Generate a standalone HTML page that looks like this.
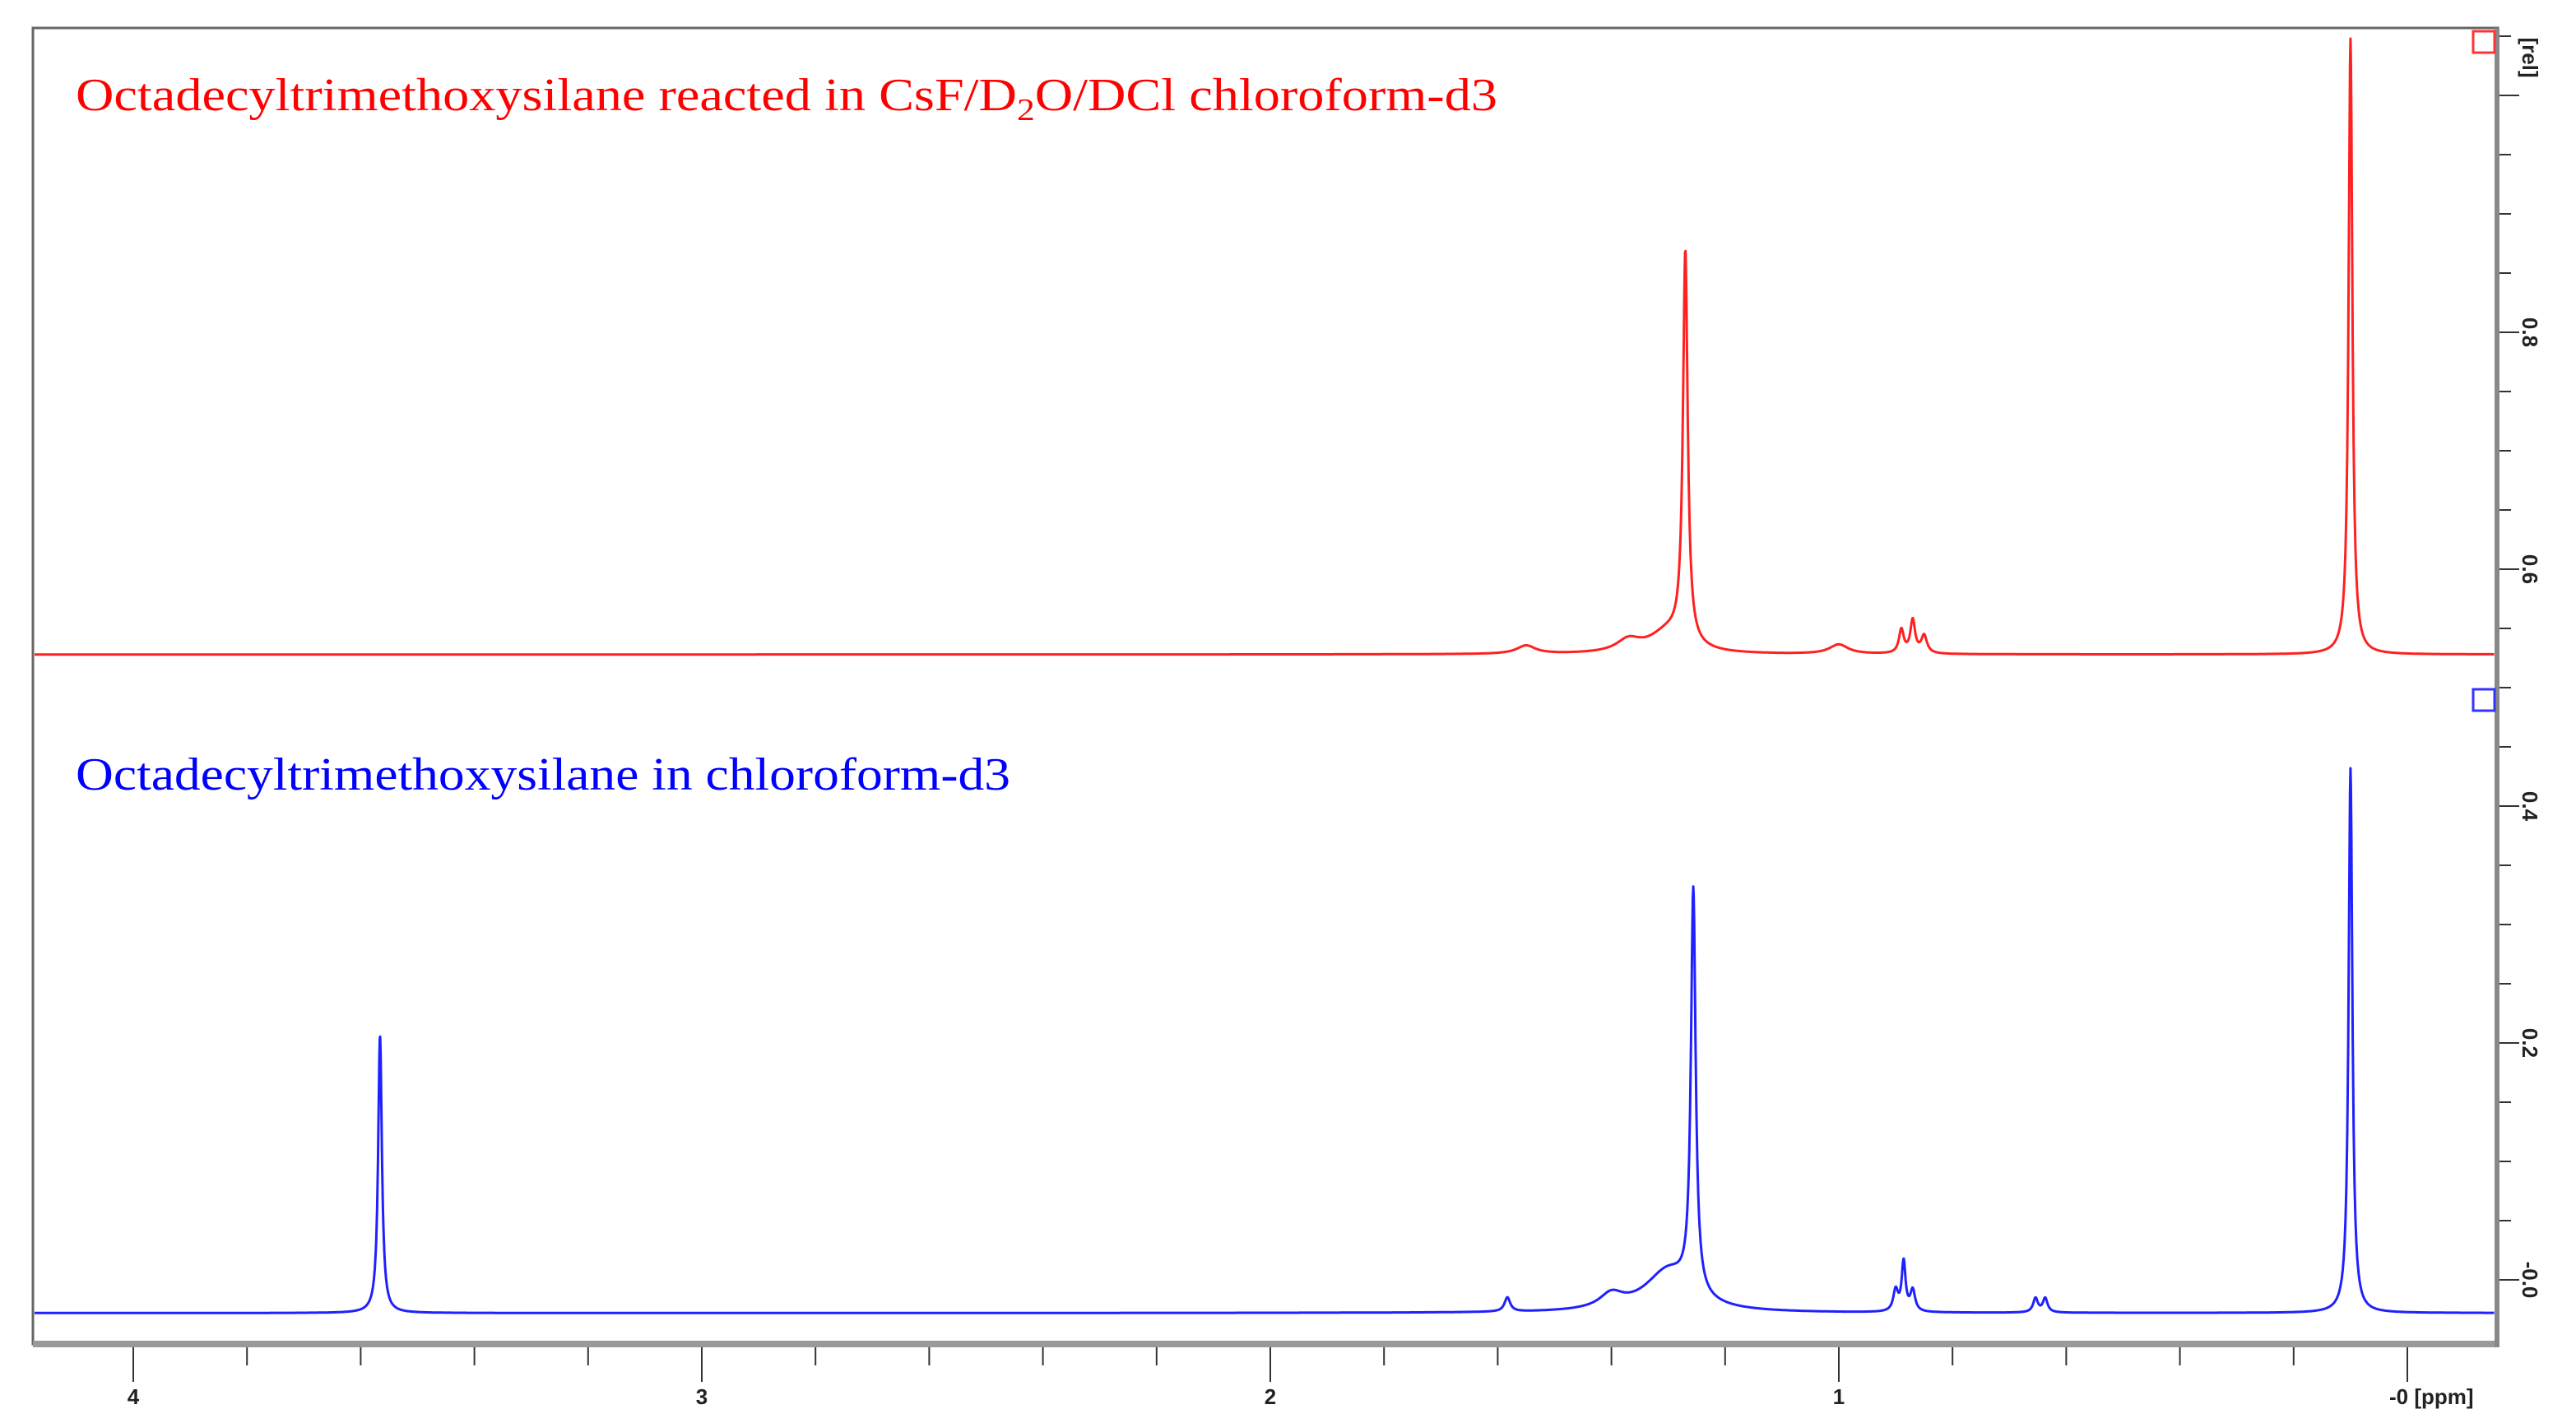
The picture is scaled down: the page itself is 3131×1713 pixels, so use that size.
<!DOCTYPE html>
<html><head><meta charset="utf-8"><style>
html,body{margin:0;padding:0;background:#fff;}
svg{display:block;font-family:"Liberation Serif",serif;}
</style></head><body>
<svg id="chart" width="3131" height="1713" viewBox="0 0 3131 1713">
<rect x="40" y="34" width="2996" height="1600" fill="#fff" stroke="#666" stroke-width="3"/>
<rect x="40" y="1630" width="2996" height="8" fill="#999"/>
<rect x="3032" y="34" width="6" height="1604" fill="#888"/>
<g id="xaxis"></g>
<g id="yaxis"></g>
<g id="series"></g>
<text x="92" y="134" font-size="56" fill="#ff0000" textLength="1728" lengthAdjust="spacingAndGlyphs">Octadecyltrimethoxysilane reacted in CsF/D<tspan font-size="38" dy="12">2</tspan><tspan dy="-12">O/DCl  chloroform-d3</tspan></text>
<text x="92" y="960" font-size="56" fill="#0000ff" textLength="1136" lengthAdjust="spacingAndGlyphs">Octadecyltrimethoxysilane in chloroform-d3</text>
<rect x="3006" y="38" width="26" height="26" fill="none" stroke="#ff3333" stroke-width="3"/>
<rect x="3006" y="838" width="26" height="26" fill="none" stroke="#3333ff" stroke-width="3"/>
</svg>
<script>
const xTicks = [4, 3, 2, 1, 0];
const xTickLabels = ["4", "3", "2", "1", "-0 [ppm]"];
const yTicks = [0.8, 0.6, 0.4, 0.2, 0.0];
const yTickLabels = ["0.8", "0.6", "0.4", "0.2", "-0.0"];
const redBaseline = 0.528;
const redPpm = [0.10, 0.87, 0.89, 0.85, 1.00, 1.27, 1.30, 1.37, 1.55];
const redHeight = [0.52, 0.028, 0.02, 0.015, 0.008, 0.33, 0.018, 0.01, 0.007];
const redWidth = [0.004, 0.005, 0.005, 0.006, 0.02, 0.005, 0.04, 0.025, 0.02];
const blueBaseline = -0.028;
const bluePpm = [0.10, 0.886, 0.87, 0.90, 0.654, 0.637, 1.256, 1.30, 1.40, 1.583, 3.566];
const blueHeight = [0.46, 0.042, 0.018, 0.018, 0.012, 0.012, 0.34, 0.035, 0.012, 0.012, 0.235];
const blueWidth = [0.004, 0.004, 0.005, 0.005, 0.005, 0.005, 0.005, 0.05, 0.025, 0.006, 0.004];

const NS = "http://www.w3.org/2000/svg";
const X = p => 2926 - p * 691;
const Y = v => 1556 - v * 1440;
const xa = document.getElementById('xaxis');
const ya = document.getElementById('yaxis');
const sg = document.getElementById('series');
function mk(tag, attrs, parent) {
  const e = document.createElementNS(NS, tag);
  for (const k in attrs) e.setAttribute(k, attrs[k]);
  parent.appendChild(e);
  return e;
}
for (let i = 0; i <= 20; i++) {
  const p = i * 0.2;
  if (X(p) < 42) continue;
  const t = mk('line', {x1: X(p), x2: X(p), y1: 1638, y2: i % 5 === 0 ? 1680 : 1660, stroke: '#333', 'stroke-width': 2}, xa);
  
  
}
xTicks.forEach((p, i) => {
  const t = mk('text', {x: X(p), y: 1688, 'font-size': 26, 'font-weight': 'bold', 'font-family': 'Liberation Sans, sans-serif', fill: '#222', 'text-anchor': i === 4 ? 'start' : 'middle'}, xa);
  if (i === 4) t.setAttribute('x', X(p) - 22);
  t.setAttribute('dominant-baseline', 'hanging');
  t.textContent = xTickLabels[i];
  
  
});
for (let i = 0; i <= 21; i++) {
  const v = i * 0.05;
  const major = i % 4 === 0;
  const t = mk('line', {x1: 3038, x2: major ? 3062 : 3052, y1: Y(v), y2: Y(v), stroke: '#333', 'stroke-width': 2}, ya);
  
  
}
yTicks.forEach((v, i) => {
  const t = mk('text', {x: 0, y: 0, 'font-size': 26, 'font-weight': 'bold', 'font-family': 'Liberation Sans, sans-serif', fill: '#222', 'text-anchor': 'middle', transform: `translate(3066,${Y(v)}) rotate(90)`}, ya);
  t.textContent = yTickLabels[i];
  
  
});
const rl = mk('text', {x: 0, y: 0, 'font-size': 26, 'font-weight': 'bold', 'font-family': 'Liberation Sans, sans-serif', fill: '#222', 'text-anchor': 'middle', transform: 'translate(3066,70) rotate(90)'}, ya);
rl.textContent = '[rel]';



function spectrum(base, ppm, h, w, color, name) {
  let d = '';
  const pStart = (2926 - 42) / 691, pEnd = (2926 - 3032) / 691;
  for (let p = pStart; p >= pEnd; p -= 0.0008) {
    let v = base;
    for (let k = 0; k < ppm.length; k++) {
      const dx = (p - ppm[k]) / w[k];
      v += h[k] / (1 + dx * dx);
    }
    d += (d ? 'L' : 'M') + X(p).toFixed(1) + ',' + Y(v).toFixed(1);
  }
  const path = mk('path', {d: d, fill: 'none', stroke: color, 'stroke-width': 3, 'stroke-linejoin': 'round'}, sg);
  
  
}
spectrum(redBaseline, redPpm, redHeight, redWidth, '#ff2020', 'red-spectrum-line');
spectrum(blueBaseline, bluePpm, blueHeight, blueWidth, '#2020ff', 'blue-spectrum-line');
</script>
</body></html>
